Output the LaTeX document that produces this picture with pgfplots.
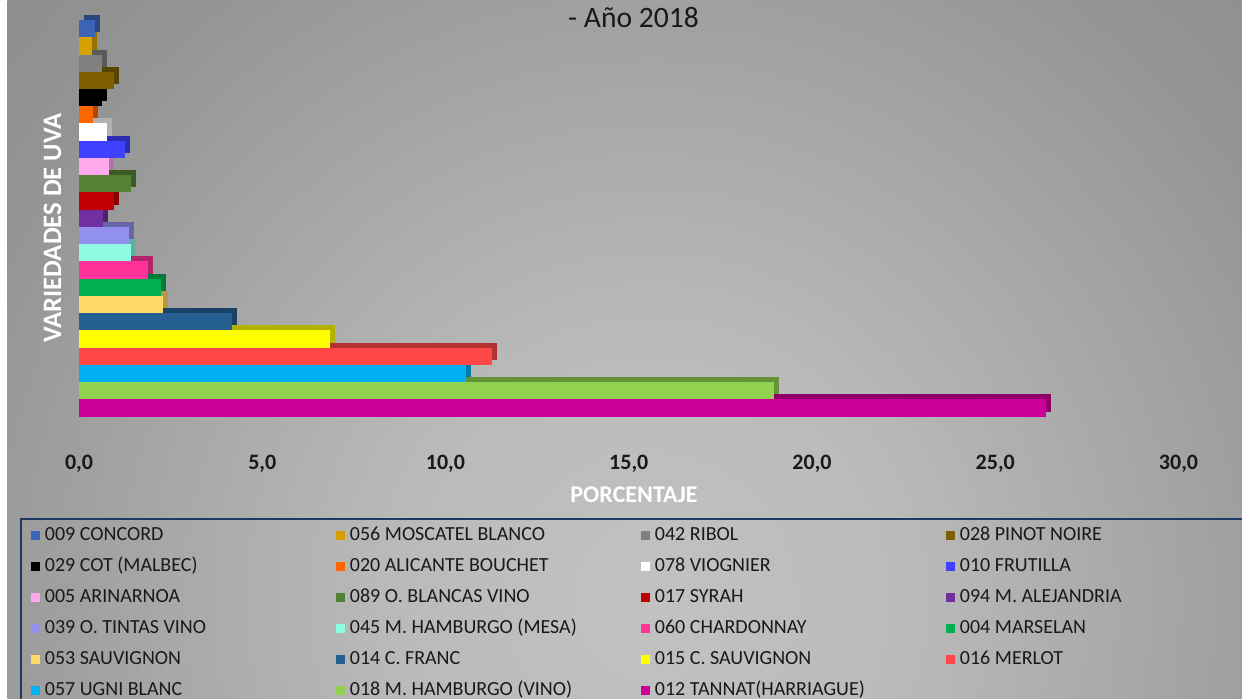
\documentclass[border=0pt]{standalone}
\usepackage{fontspec}
\setmainfont{Carlito}
\usepackage{pgfplots}
\pgfplotsset{compat=1.18}

% fondo degradado
\definecolor{f0}{HTML}{C2C2C2}
\definecolor{f1}{HTML}{BABABA}
\definecolor{f2}{HTML}{949494}
\definecolor{f3}{HTML}{868686}
\definecolor{f4}{HTML}{6C6C6C}
\definecolor{f5}{HTML}{585858}
\definecolor{f6}{HTML}{525252}
\pgfdeclareradialshading{fondo}{\pgfpoint{0bp}{0bp}}{%
  color(0bp)=(f0); color(8bp)=(f1); color(23bp)=(f2); color(34bp)=(f3);
  color(40bp)=(f4); color(52bp)=(f5); color(75bp)=(f6)}
\definecolor{marco}{HTML}{1F3864}

% colores de las variedades
\definecolor{cConcord}{HTML}{3C64B4}
\definecolor{cMosc}{HTML}{D4A100}
\definecolor{cRibol}{HTML}{808080}
\definecolor{cPinot}{HTML}{7F6000}
\definecolor{cCot}{HTML}{000000}
\definecolor{cAlic}{HTML}{FF6600}
\definecolor{cViog}{HTML}{FFFFFF}
\definecolor{cFrut}{HTML}{4040FF}
\definecolor{cArin}{HTML}{FFA8EC}
\definecolor{cOBlancas}{HTML}{548235}
\definecolor{cSyrah}{HTML}{C00000}
\definecolor{cAlej}{HTML}{7030A0}
\definecolor{cOTintas}{HTML}{9391EE}
\definecolor{cHambM}{HTML}{8EFCE0}
\definecolor{cChard}{HTML}{FF3399}
\definecolor{cMarselan}{HTML}{00B050}
\definecolor{cSauv}{HTML}{FFD966}
\definecolor{cCFranc}{HTML}{255E91}
\definecolor{cCSauv}{HTML}{FFFF00}
\definecolor{cMerlot}{HTML}{FF4747}
\definecolor{cUgni}{HTML}{00B0F0}
\definecolor{cHambV}{HTML}{92D050}
\definecolor{cTannat}{HTML}{CC0099}

% barra con cara lateral: color, valor, fila, nombre
\newcommand{\barra}[4]{%
  \addplot[forget plot, fill=#1!70!black, draw=none, bar shift=0pt,
    xshift=2.5pt, yshift=2.5pt] coordinates {(#2,#3)};
  \addplot[fill=#1, draw=none, bar shift=0pt] coordinates {(#2,#3)};
  \addlegendentry{\makebox[143pt][l]{#4}}}

\begin{document}
\begin{tikzpicture}
\useasboundingbox (0,0) rectangle (621pt,349pt);
\fill[white] (0,0) rectangle (621pt,349pt);
\begin{scope}
  \clip (3.7pt,0) rectangle (621pt,349pt);
  \shade[shading=fondo] (-75pt,-359pt) rectangle (725pt,457pt);
\end{scope}

\begin{axis}[
  at={(39.5pt,140.65pt)}, anchor=south west,
  scale only axis, width=549.75pt, height=198.35pt,
  xmin=0, xmax=30, ymin=-0.5, ymax=22.5,
  xbar, bar width=1,
  clip=false,
  axis line style={draw=none},
  tick style={draw=none},
  ytick=\empty,
  xtick={0,5,...,30},
  xticklabel style={anchor=center, yshift=-23.3pt,
    font=\bfseries\fontsize{11}{13}\selectfont, text=black!90,
    /pgf/number format/.cd, fixed, fixed zerofill, precision=1,
    use comma, assume math mode=true},
  every axis plot post/.append style={
    legend image code/.code={\fill[##1] (0pt,-2.25pt) rectangle (4.5pt,2.25pt);}},
  legend columns=4,
  legend cell align=left,
  reverse legend,
  legend style={
    at={(axis description cs:-0.0537,-0.2546)}, anchor=north west,
    draw=marco, line width=1pt, fill=none,
    inner xsep=5pt, inner ysep=3pt, row sep=5pt,
    font=\fontsize{10}{12}\selectfont, text=black!90,
    nodes={inner xsep=2.5pt, inner ysep=0pt,
      text height=8pt, text depth=2.5pt},
    /tikz/every even column/.append style={column sep=0pt}},
]
\barra{cTannat}{26.38}{0}{012 TANNAT(HARRIAGUE)}
\barra{cHambV}{18.97}{1}{018 M. HAMBURGO (VINO)}
\barra{cUgni}{10.57}{2}{057 UGNI BLANC}
\barra{cMerlot}{11.26}{3}{016 MERLOT}
\barra{cCSauv}{6.86}{4}{015 C. SAUVIGNON}
\barra{cCFranc}{4.18}{5}{014 C. FRANC}
\barra{cSauv}{2.29}{6}{053 SAUVIGNON}
\barra{cMarselan}{2.23}{7}{004 MARSELAN}
\barra{cChard}{1.88}{8}{060 CHARDONNAY}
\barra{cHambM}{1.41}{9}{045 M. HAMBURGO (MESA)}
\barra{cOTintas}{1.36}{10}{039 O. TINTAS VINO}
\barra{cAlej}{0.65}{11}{094 M. ALEJANDRIA}
\barra{cSyrah}{0.96}{12}{017 SYRAH}
\barra{cOBlancas}{1.42}{13}{089 O. BLANCAS VINO}
\barra{cArin}{0.83}{14}{005 ARINARNOA}
\barra{cFrut}{1.26}{15}{010 FRUTILLA}
\barra{cViog}{0.76}{16}{078 VIOGNIER}
\barra{cAlic}{0.39}{17}{020 ALICANTE BOUCHET}
\barra{cCot}{0.62}{18}{029 COT (MALBEC)}
\barra{cPinot}{0.96}{19}{028 PINOT NOIRE}
\barra{cRibol}{0.62}{20}{042 RIBOL}
\barra{cMosc}{0.35}{21}{056 MOSCATEL BLANCO}
\barra{cConcord}{0.44}{22}{009 CONCORD}
\end{axis}

\node[font=\fontsize{14.8}{17}\selectfont, text=black!90] at (316.75pt,340.35pt) {- Año 2018};
\node[rotate=90, font=\bfseries\fontsize{13.3}{15}\selectfont, text=white] at (26.25pt,235pt) {VARIEDADES DE UVA};
\node[font=\bfseries\fontsize{12}{14}\selectfont, text=white] at (317pt,101.5pt) {PORCENTAJE};
\end{tikzpicture}
\end{document}
